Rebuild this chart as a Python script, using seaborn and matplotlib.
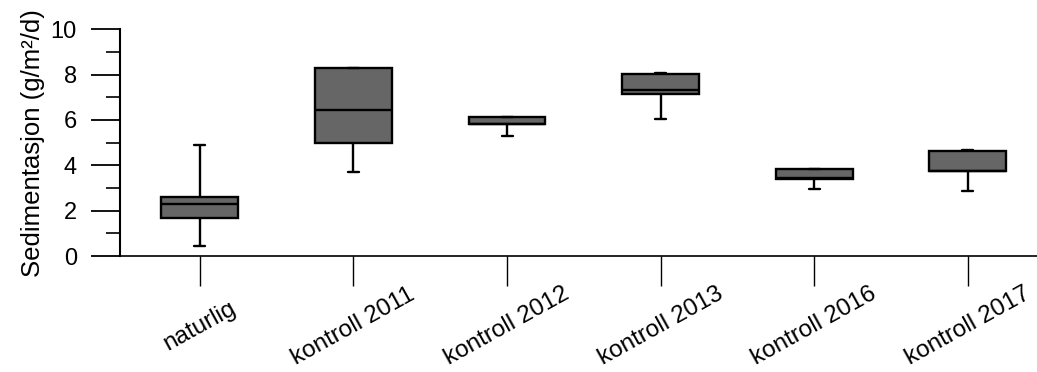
import numpy as np
import pandas as pd
import matplotlib
matplotlib.use("Agg")
import matplotlib.pyplot as plt
import seaborn as sns
from matplotlib.ticker import MultipleLocator

categories = ["naturlig", "kontroll 2011", "kontroll 2012", "kontroll 2013",
              "kontroll 2016", "kontroll 2017"]
whisker_low = [0.45, 3.72, 5.29, 6.04, 2.96, 2.87]
q1 = [1.69, 4.97, 5.81, 7.13, 3.38, 3.75]
median = [2.28, 6.44, 5.83, 7.32, 3.43, 3.77]
q3 = [2.62, 8.28, 6.12, 8.03, 3.82, 4.65]
whisker_high = [4.90, 8.28, 6.14, 8.06, 3.83, 4.66]
y_label = "Sedimentasjon (g/m²/d)"
y_ticks = [0, 2, 4, 6, 8, 10]

rows = []
for i, c in enumerate(categories):
    for v in (whisker_low[i], q1[i], median[i], q3[i], whisker_high[i]):
        rows.append({"group": c, "value": v})
df = pd.DataFrame(rows)

sns.set_style("white")
plt.rcParams["font.family"] = ["Liberation Sans", "DejaVu Sans"]
plt.rcParams["text.color"] = "black"
plt.rcParams["axes.labelcolor"] = "black"
plt.rcParams["xtick.color"] = "black"
plt.rcParams["ytick.color"] = "black"

fig = plt.figure(figsize=(10.37, 3.72), dpi=100)
ax = fig.add_axes([0.1157, 0.3118, 0.8843, 0.6094])

sns.boxplot(data=df, x="group", y="value", order=categories, color="#666666",
            linecolor="black", linewidth=1.7, width=0.5, whis=(0, 100),
            saturation=1, showfliers=False, capwidths=0.072, ax=ax)

ax.set_xlim(-0.52, 5.45)
ax.set_ylim(0, 10)
ax.set_yticks(y_ticks)
ax.set_yticklabels([str(t) for t in y_ticks])
ax.yaxis.set_minor_locator(MultipleLocator(1))
ax.set_xlabel("")
ax.set_ylabel(y_label, fontsize=18.5, labelpad=4)

for s in ("top", "right"):
    ax.spines[s].set_visible(False)
ax.spines["left"].set_linewidth(1.5)
ax.spines["left"].set_color("black")
ax.spines["bottom"].set_linewidth(1.2)
ax.spines["bottom"].set_color("black")

ax.tick_params(axis="y", which="major", direction="out", length=21, width=1.3,
               color="black", labelcolor="black", labelsize=17, pad=10, left=True)
ax.tick_params(axis="y", which="minor", direction="out", length=10, width=1.2,
               color="black", left=True)
ax.tick_params(axis="x", which="major", direction="out", length=21.5, width=1.0,
               color="black", labelcolor="black", labelsize=17.5, pad=29, bottom=True)
for lab in ax.get_xticklabels():
    lab.set_rotation(29)
    lab.set_ha("center")
    lab.set_va("center")
    lab.set_rotation_mode("anchor")

fig.savefig("out.png", dpi=100)
